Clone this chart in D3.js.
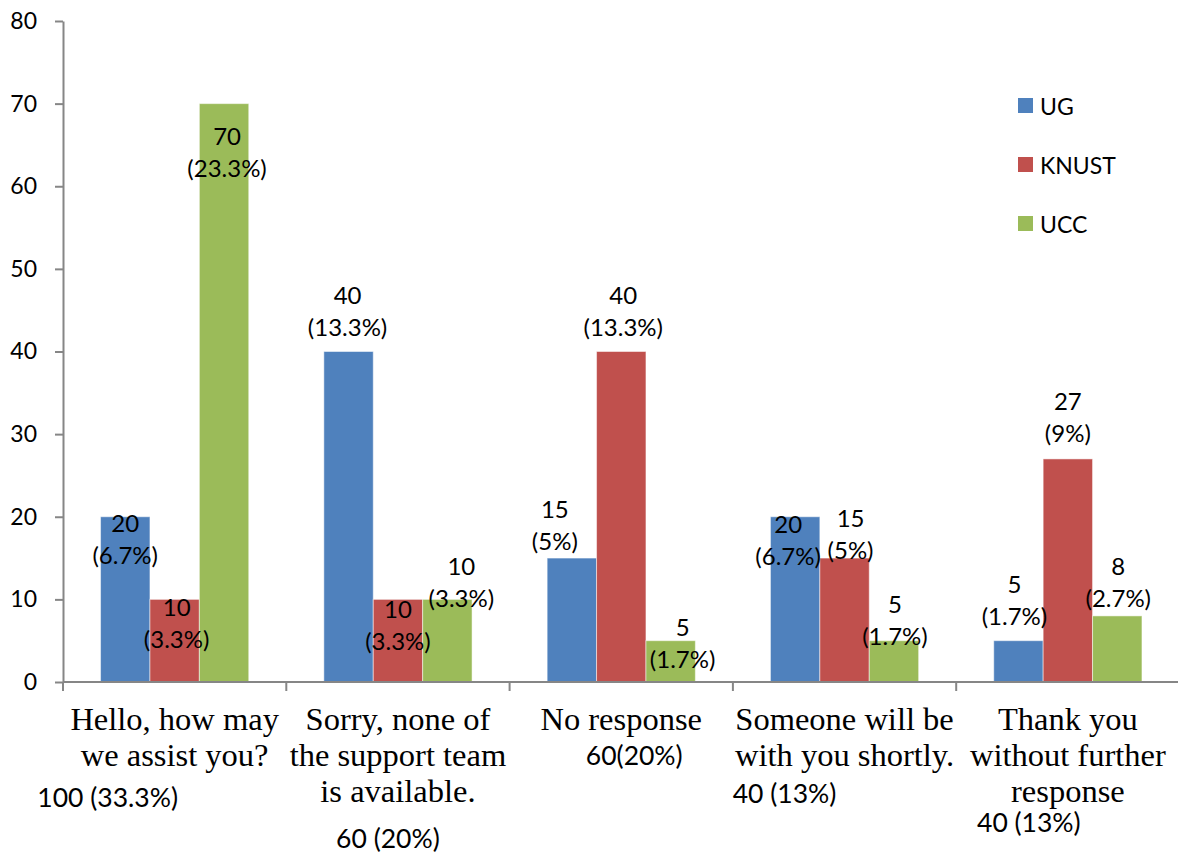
<!DOCTYPE html>
<html>
<head>
<meta charset="utf-8">
<script src="https://cdn.jsdelivr.net/npm/d3@7"></script>
<style>
  html, body { margin: 0; padding: 0; background: #fff; }
  svg { display: block; }
  .num { font-family: Lato, "Open Sans", sans-serif; font-size: 24px; fill: #000; }
  .tick text.num, .legend text.num { font-size: 23px; }
  .total { font-size: 26.5px; }
  .cat { font-family: "Liberation Serif", "Times New Roman", serif; font-size: 32.5px; fill: #000; }
</style>
</head>
<body>
<svg id="chart" width="1178" height="853"></svg>
<script>
// Responses to the chat greeting, by university
const categories = [
  ["Hello, how may", "we assist you?"],
  ["Sorry, none of", "the support team", "is available."],
  ["No response"],
  ["Someone will be", "with you shortly."],
  ["Thank you", "without further", "response"]
];
const seriesNames = ["UG", "KNUST", "UCC"];
const ugValues    = [20, 40, 15, 20, 5];
const knustValues = [10, 10, 40, 15, 27];
const uccValues   = [70, 10, 5, 5, 8];
const respondents = 300;
const categoryTotals = ["100 (33.3%)", "60 (20%)", "60(20%)", "40 (13%)", "40 (13%)"];
const yTicks = [0, 10, 20, 30, 40, 50, 60, 70, 80];

const colors = { UG: "#4F81BD", KNUST: "#C0504D", UCC: "#9BBB59" };
const valuesBySeries = { UG: ugValues, KNUST: knustValues, UCC: uccValues };

// Hand-placed label offsets: [dx from bar centre, dy of first line from bar top]
const labelNudge = {
  UG:    [[0, 5], [-1, -58], [-17, -50], [-7, 6], [-4, -58]],
  KNUST: [[2, 7], [0, 9], [2, -58], [6, -41], [0, -59]],
  UCC:   [[3, 31], [14, -34], [12, -15], [1, -38], [1, -51]]
};
// Offsets for the category totals: [dx from category centre, y centre]
const totalNudge = [[-67, 797], [-10, 838], [13, 755], [-60, 793], [-39, 822]];

const svg = d3.select("#chart");
const plotLeft = 63, plotRight = 1179.5, plotTop = 21, plotBottom = 682;
const axisColor = "#868686";

const catKeys = categories.map((c, i) => i);
const x0 = d3.scaleBand().domain(catKeys).range([plotLeft, plotRight]).padding(0);
const x1 = d3.scaleBand().domain(seriesNames).range([0, x0.bandwidth()])
  .paddingInner(0).paddingOuter(0.76);
const y = d3.scaleLinear().domain([0, 80]).range([plotBottom, plotTop]);

// Y axis
const yAxis = svg.append("g")
  .attr("transform", `translate(${plotLeft},0)`)
  .call(d3.axisLeft(y).tickValues(yTicks).tickSize(8).tickSizeOuter(0).tickPadding(18));
yAxis.attr("font-family", null).attr("font-size", null);
yAxis.select(".domain").attr("stroke", axisColor).attr("stroke-width", 2);
yAxis.selectAll(".tick line").attr("stroke", axisColor).attr("stroke-width", 2);
yAxis.selectAll(".tick text").attr("class", "num");

// Bars
const rows = catKeys.map(i => seriesNames.map(s => ({ cat: i, series: s, value: valuesBySeries[s][i] })));
const groups = svg.append("g").selectAll("g").data(rows).join("g")
  .attr("transform", (d, i) => `translate(${x0(i)},0)`);
groups.selectAll("rect").data(d => d).join("rect")
  .attr("x", d => x1(d.series))
  .attr("y", d => y(d.value))
  .attr("width", x1.bandwidth())
  .attr("height", d => y(0) - y(d.value))
  .attr("fill", d => colors[d.series])
  .attr("stroke", "#ffffff").attr("stroke-opacity", 0.5).attr("stroke-width", 1);

// X axis line and category boundary ticks
const xAxis = svg.append("g");
xAxis.append("line")
  .attr("x1", plotLeft).attr("x2", plotRight).attr("y1", plotBottom).attr("y2", plotBottom)
  .attr("stroke", axisColor).attr("stroke-width", 2);
const bounds = catKeys.map(i => x0(i)).concat([plotRight]);
xAxis.selectAll("line.tick").data(bounds).join("line").attr("class", "tick")
  .attr("x1", d => d).attr("x2", d => d).attr("y1", plotBottom).attr("y2", plotBottom + 9)
  .attr("stroke", axisColor).attr("stroke-width", 2);

// Category labels
svg.append("g").selectAll("text").data(categories).join("text")
  .attr("class", "cat").attr("text-anchor", "middle")
  .attr("x", (d, i) => x0(i) + x0.bandwidth() / 2)
  .attr("y", 730)
  .selectAll("tspan").data(d => d).join("tspan")
  .attr("x", function () { return d3.select(this.parentNode).attr("x"); })
  .attr("dy", (d, j) => j === 0 ? 0 : 36)
  .text(d => d);

// Data labels: count and share of respondents
const pct = v => +(v / respondents * 100).toFixed(1) + "%";
const labels = svg.append("g").selectAll("text").data(rows.flat()).join("text")
  .attr("class", "num").attr("text-anchor", "middle")
  .attr("x", d => x0(d.cat) + x1(d.series) + x1.bandwidth() / 2 + labelNudge[d.series][d.cat][0])
  .attr("y", d => y(d.value) + labelNudge[d.series][d.cat][1])
  .attr("dominant-baseline", "central");
labels.append("tspan").attr("x", function () { return d3.select(this.parentNode).attr("x"); })
  .text(d => d.value);
labels.append("tspan").attr("x", function () { return d3.select(this.parentNode).attr("x"); })
  .attr("dy", 32).text(d => `(${pct(d.value)})`);

// Category totals
svg.append("g").selectAll("text").data(categoryTotals).join("text")
  .attr("class", "num total").attr("text-anchor", "middle").attr("dominant-baseline", "central")
  .attr("x", (d, i) => x0(i) + x0.bandwidth() / 2 + totalNudge[i][0])
  .attr("y", (d, i) => totalNudge[i][1])
  .text(d => d);

// Legend
const legend = svg.append("g").attr("class", "legend").attr("transform", "translate(1018,98)");
const item = legend.selectAll("g").data(seriesNames).join("g")
  .attr("transform", (d, i) => `translate(0,${i * 59})`);
item.append("rect").attr("width", 15).attr("height", 15).attr("fill", d => colors[d]);
item.append("text").attr("class", "num").attr("x", 22).attr("y", 8)
  .attr("dominant-baseline", "central").text(d => d);
</script>
</body>
</html>
